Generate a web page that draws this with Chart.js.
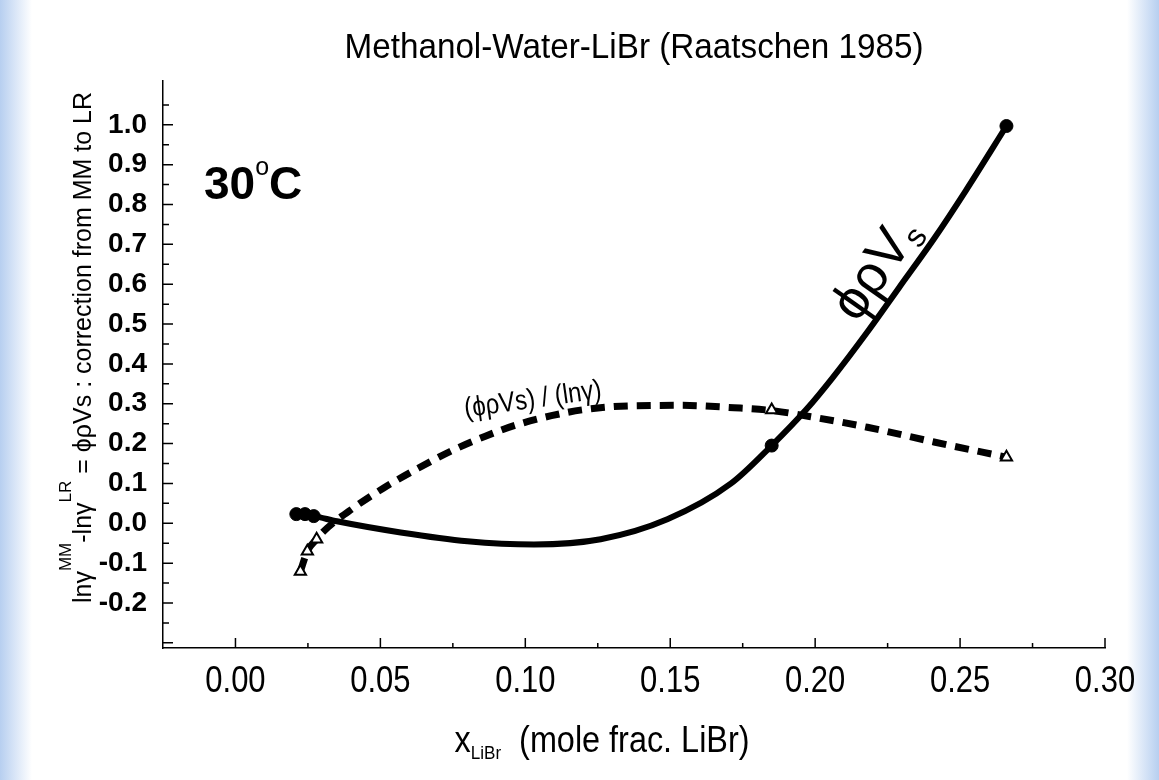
<!DOCTYPE html>
<html>
<head>
<meta charset="utf-8">
<title>Methanol-Water-LiBr</title>
<script src="https://cdn.jsdelivr.net/npm/chart.js@4.4.1/dist/chart.umd.min.js"></script>
<style>
    html, body { margin: 0; padding: 0; }
    body {
        width: 1159px; height: 780px; overflow: hidden;
        background: linear-gradient(to right, #b7cff0 0px, #ffffff 32px, #ffffff 1127px, #b7cff0 1159px);
    }
</style>
</head>
<body>
<canvas id="chart" width="1159" height="780"></canvas>
<script>
// measured points (filled circles: phi*rho*Vs, open triangles: ratio)
const circleX = [0.021, 0.024, 0.027, 0.185, 0.266];
const circleY = [0.023, 0.023, 0.018, 0.195, 0.997];
const triangleX = [0.0224, 0.0248, 0.028, 0.185, 0.266];
const triangleY = [-0.121, -0.070, -0.040, 0.284, 0.166];

// fitted curve phi*rho*Vs (solid)
const fitX = [0.021, 0.027, 0.035, 0.057, 0.080, 0.103, 0.126, 0.149, 0.171, 0.185, 0.197, 0.206, 0.218, 0.229, 0.241, 0.252, 0.266];
const fitY = [0.023, 0.018, 0.005, -0.023, -0.045, -0.053, -0.040, 0.010, 0.100, 0.195, 0.286, 0.365, 0.480, 0.592, 0.714, 0.835, 0.997];

// ratio curve (phi*rho*Vs)/(ln gamma) (dashed)
const ratioX = [0.0224, 0.0248, 0.028, 0.030, 0.041, 0.051, 0.063, 0.074, 0.086, 0.097, 0.109, 0.120, 0.137, 0.154, 0.172, 0.185, 0.198, 0.218, 0.241, 0.266];
const ratioY = [-0.121, -0.070, -0.040, -0.023, 0.040, 0.088, 0.138, 0.180, 0.218, 0.247, 0.270, 0.285, 0.295, 0.296, 0.290, 0.283, 0.268, 0.241, 0.204, 0.166];

const xTickValues = [0.00, 0.05, 0.10, 0.15, 0.20, 0.25, 0.30];
const yTickValues = [-0.2, -0.1, 0.0, 0.1, 0.2, 0.3, 0.4, 0.5, 0.6, 0.7, 0.8, 0.9, 1.0];

const chartTitle = 'Methanol-Water-LiBr (Raatschen 1985)';

function toPoints(xs, ys) {
    return xs.map((x, i) => ({ x: x, y: ys[i] }));
}

const SANS = '"Liberation Sans", Arial, sans-serif';
const NARROW_SX = 0.86; // squeeze to look like Arial Narrow

// draws a run of text pieces one after another; each piece: [text, font, rise]
function drawRun(ctx, pieces, x, y, align, sx) {
    sx = sx || 1;
    let total = 0;
    pieces.forEach(p => { ctx.font = p[1]; total += ctx.measureText(p[0]).width; });
    ctx.save();
    ctx.translate(x, y);
    ctx.scale(sx, 1);
    let cx = align === 'center' ? -total / 2 : 0;
    ctx.textAlign = 'left';
    ctx.textBaseline = 'alphabetic';
    pieces.forEach(p => {
        ctx.font = p[1];
        ctx.fillText(p[0], cx, p[2] || 0);
        cx += ctx.measureText(p[0]).width;
    });
    ctx.restore();
}

const decorPlugin = {
    id: 'decor',
    afterDraw(chart) {
        const ctx = chart.ctx;
        const xs = chart.scales.x;
        const ys = chart.scales.y;
        const area = chart.chartArea;
        ctx.save();
        ctx.fillStyle = '#000';
        ctx.strokeStyle = '#000';
        ctx.lineWidth = 1.5;

        // inward tick marks
        ctx.beginPath();
        for (let i = 0; i <= 12; i++) {
            const px = xs.getPixelForValue(i * 0.025);
            const len = i % 2 === 0 ? 10 : 5;
            ctx.moveTo(px, area.bottom);
            ctx.lineTo(px, area.bottom - len);
        }
        for (let i = -6; i <= 21; i++) {
            const py = ys.getPixelForValue(i * 0.05);
            const len = i % 2 === 0 ? 10 : 6;
            ctx.moveTo(area.left, py);
            ctx.lineTo(area.left + len, py);
        }
        ctx.stroke();

        // x tick labels (narrow face)
        xTickValues.forEach(v => {
            drawRun(ctx, [[v.toFixed(2), '36px ' + SANS, 0]], xs.getPixelForValue(v), 692, 'center', NARROW_SX);
        });

        // title
        drawRun(ctx, [[chartTitle, '35px ' + SANS, 0]], (area.left + area.right) / 2, 58, 'center', 0.95);

        // y axis title
        ctx.save();
        ctx.translate(91, 603);
        ctx.rotate(-Math.PI / 2);
        const big = '25px ' + SANS;
        const sup = '17px ' + SANS;
        drawRun(ctx, [
            ['ln\u03B3', big, 0], ['MM', sup, -20], ['-ln\u03B3', big, 0], ['LR', sup, -20],
            [' = \u03D5\u03C1Vs : correction from MM to LR', big, 0]
        ], 0, 0, 'left');
        ctx.restore();

        // x axis title
        drawRun(ctx, [
            ['x', '36px ' + SANS, 0], ['LiBr', '19px ' + SANS, 7],
            ['  (mole frac. LiBr)', '36px ' + SANS, 0]
        ], 602, 752, 'center', 0.9);

        // temperature
        drawRun(ctx, [
            ['30', 'bold 46px ' + SANS, 0], ['o', '25px ' + SANS, -24], ['C', 'bold 46px ' + SANS, 0]
        ], 204, 199, 'left');

        // label of dashed curve
        ctx.save();
        ctx.translate(xs.getPixelForValue(0.1025), ys.getPixelForValue(0.315));
        ctx.rotate(-8 * Math.PI / 180);
        drawRun(ctx, [['(\u03D5\u03C1Vs) / (ln\u03B3)', '28px ' + SANS, 0]], 0, 10, 'center', NARROW_SX);
        ctx.restore();

        // label of solid curve
        ctx.save();
        ctx.translate(xs.getPixelForValue(0.2145), ys.getPixelForValue(0.5));
        ctx.rotate(-55 * Math.PI / 180);
        drawRun(ctx, [['\u03D5\u03C1V', '54px ' + SANS, 0], ['s', '32px ' + SANS, 8]], 0, 0, 'left');
        ctx.restore();

        ctx.restore();
    }
};

const ctx = document.getElementById('chart').getContext('2d');
const chart = new Chart(ctx, {
    type: 'scatter',
    data: {
        datasets: [
            {
                label: 'phi rho Vs data',
                data: toPoints(circleX, circleY),
                pointStyle: 'circle',
                pointRadius: 6.5,
                backgroundColor: '#000',
                borderColor: '#000',
                borderWidth: 1,
                order: 1
            },
            {
                label: 'ratio data',
                data: toPoints(triangleX, triangleY),
                pointStyle: 'triangle',
                pointRadius: 6.5,
                backgroundColor: '#fff',
                borderColor: '#000',
                borderWidth: 2,
                order: 2
            },
            {
                label: 'phi rho Vs',
                data: toPoints(fitX, fitY),
                showLine: true,
                pointRadius: 0,
                borderColor: '#000',
                borderWidth: 6,
                cubicInterpolationMode: 'monotone',
                fill: false,
                order: 3
            },
            {
                label: '(phi rho Vs) / (ln gamma)',
                data: toPoints(ratioX, ratioY),
                showLine: true,
                pointRadius: 0,
                borderColor: '#000',
                borderWidth: 7,
                borderDash: [14, 9],
                borderCapStyle: 'butt',
                cubicInterpolationMode: 'monotone',
                fill: false,
                order: 4
            }
        ]
    },
    options: {
        responsive: false,
        animation: false,
        devicePixelRatio: 1,
        layout: { padding: { top: 81, right: 54, left: 0, bottom: 0 } },
        plugins: {
            legend: { display: false },
            tooltip: { enabled: false },
            title: { display: false }
        },
        scales: {
            x: {
                type: 'linear',
                position: 'bottom',
                min: -0.025,
                max: 0.30,
                grid: { display: false, drawTicks: false },
                border: { display: true, color: '#000', width: 1.5 },
                ticks: { display: false },
                afterBuildTicks: s => { s.ticks = xTickValues.map(v => ({ value: v })); },
                afterFit: s => { s.height = 132; }
            },
            y: {
                type: 'linear',
                min: -0.313,
                max: 1.11,
                grid: { display: false, drawTicks: false },
                border: { display: true, color: '#000', width: 1.5 },
                ticks: {
                    color: '#000',
                    padding: 16,
                    font: { family: SANS, size: 28, weight: 'bold' },
                    callback: v => v.toFixed(1)
                },
                afterBuildTicks: s => { s.ticks = yTickValues.map(v => ({ value: v })); },
                afterFit: s => { s.width = 163; }
            }
        }
    },
    plugins: [decorPlugin]
});
</script>
</body>
</html>
